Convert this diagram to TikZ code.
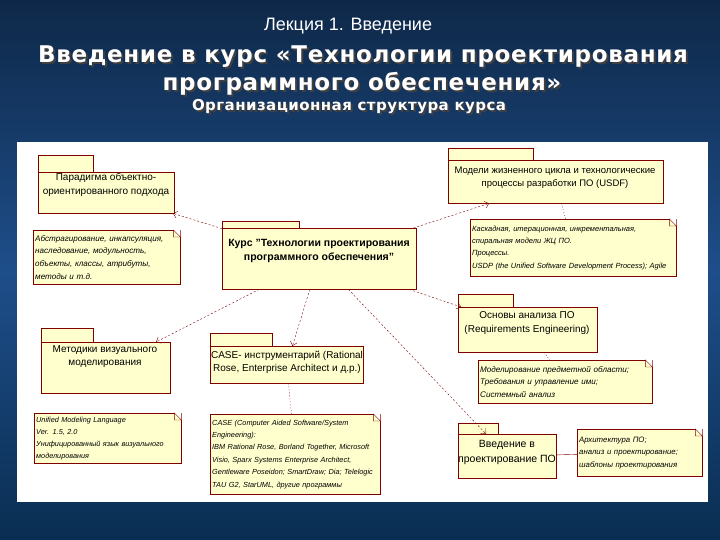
\documentclass[tikz,border=0pt]{standalone}
\usepackage{fontspec}
\setmainfont{Liberation Sans}
\newfontfamily\headfont[LetterSpace=3]{DejaVu Sans}
\usetikzlibrary{positioning,arrows.meta,calc}

\definecolor{umlfill}{RGB}{255,255,206}
\definecolor{umlred}{RGB}{128,0,0}
\definecolor{slidetop}{RGB}{14,40,72}
\definecolor{slidemid}{RGB}{30,78,138}
\definecolor{slidebot}{RGB}{10,46,82}

% heading text with a dark drop shadow
\newcommand\shadowtext[1]{\makebox[0pt][l]{\kern2pt\raisebox{-2pt}{\textcolor{black!75}{#1}}}#1}

\begin{document}
\begin{tikzpicture}[
    x=1pt, y=-1pt,
    pkg/.style={rectangle, draw=umlred, fill=umlfill, anchor=north west, inner sep=0pt},
    pkgtab/.style={draw=umlred, fill=umlfill},
    pkgtext/.style={align=center, font=\fontsize{10}{13.5}\selectfont},
    note/.style={rectangle, draw=umlred, fill=umlfill, anchor=north west, align=left, inner sep=2pt, font=\fontsize{7.8}{12.4}\selectfont\itshape},
    dep/.style={umlred, dash pattern=on 2pt off 2pt, -{Straight Barb[length=4pt,width=7pt]}},
    link/.style={umlred, dash pattern=on 1pt off 2pt},
    headline/.style={text=white, font=\headfont\bfseries\fontsize{23}{27}\selectfont}
]
\useasboundingbox (0,0) rectangle (720,540);

% slide background
\shade[top color=slidetop, bottom color=slidebot, middle color=slidemid] (0,0) rectangle (720,540);
\fill[white] (17,142) rectangle (708,502);

% headings
\node[text=white, font=\fontsize{18}{20}\selectfont] (lecture) at (348,26) {Лекция 1. Введение};
\node[headline] (t1) at (363,58) {\shadowtext{Введение в курс «Технологии проектирования}};
\node[headline] (t2) at (362,85) {\shadowtext{программного обеспечения»}};
\node[headline, font=\headfont\bfseries\fontsize{15}{17}\selectfont] (t3) at (349,108) {\shadowtext{Организационная структура курса}};

% packages
\node[pkg, minimum width=136pt, minimum height=41pt] (para) at (38,172) {};
\node[pkg, minimum width=194pt, minimum height=61pt] (kurs) at (222,228) {};
\node[pkg, minimum width=215pt, minimum height=43pt] (usdf) at (448,160) {};
\node[pkg, minimum width=139pt, minimum height=45pt] (re) at (458,307) {};
\node[pkg, minimum width=129pt, minimum height=51pt] (metod) at (41,342) {};
\node[pkg, minimum width=153pt, minimum height=37pt] (case) at (210,346) {};
\node[pkg, minimum width=98pt, minimum height=44pt] (vved) at (458,434) {};
\foreach \n/\w/\h in {para/55/17, kurs/77/7, usdf/85/12, re/55/13, metod/52/14, case/62/13, vved/40/11}
    \draw[pkgtab] (\n.north west) rectangle ++(\w,-\h);

\node[pkgtext] (paratxt) at (106,185) {Парадигма объектно-\\ориентированного подхода};
\node[pkgtext, font=\bfseries\fontsize{10.5}{14}\selectfont] (kurstxt) at (319,251) {Курс "Технологии проектирования\\программного обеспечения"};
\node[pkgtext, font=\fontsize{9.5}{13}\selectfont] (usdftxt) at (555,177.5) {Модели жизненного цикла и технологические\\процессы разработки ПО (USDF)};
\node[pkgtext] (retxt) at (527,323) {Основы анализа ПО\\(Requirements Engineering)};
\node[pkgtext] (metodtxt) at (105,356.5) {Методики визуального\\моделирования};
\node[pkgtext] (casetxt) at (287,362.5) {CASE- инструментарий (Rational\\Rose, Enterprise Architect и д.р.)};
\node[pkgtext, font=\fontsize{10.5}{15}\selectfont] (vvedtxt) at (507,452.5) {Введение в\\проектирование ПО};

% notes
\node[note, text width=143pt, minimum height=54pt, font=\fontsize{8.1}{12.6}\selectfont\itshape] (npara) at (33,230) {Абстрагирование, инкапсуляция,\\наследование, модульность,\\объекты, классы, атрибуты,\\методы и т.д.};
\node[note, text width=202pt, minimum height=57pt, font=\fontsize{7.5}{12.4}\selectfont\itshape] (nusdf) at (470,219) {Каскадная, итерационная, инкрементальная,\\спиральная модели ЖЦ ПО.\\Процессы.\\USDP (the Unified Software Development Process); Agile};
\node[note, text width=170pt, minimum height=43pt, font=\fontsize{8.1}{12.6}\selectfont\itshape] (nre) at (478,360) {Моделирование предметной области;\\Требования и управление ими;\\Системный анализ};
\node[note, text width=143pt, minimum height=50pt, font=\fontsize{7.3}{12}\selectfont\itshape] (nmetod) at (34,413) {Unified Modeling Language\\Ver. 1.5, 2.0\\Унифицированный язык визуального\\моделирования};
\node[note, text width=166pt, minimum height=80pt, font=\fontsize{7.35}{12.4}\selectfont\itshape] (ncase) at (210,414) {CASE (Computer Aided Software/System\\Engineering):\\IBM Rational Rose, Borland Together, Microsoft\\Visio, Sparx Systems Enterprise Architect,\\Gentleware Poseidon; SmartDraw; Dia; Telelogic\\TAU G2, StarUML, другие программы};
\node[note, text width=121pt, minimum height=47pt] (nvved) at (577,429) {Архитектура ПО;\\анализ и проектирование;\\шаблоны проектирования};
\foreach \n in {npara, nusdf, nre, nmetod, ncase, nvved} {
    \fill[white] (\n.north east) -- ++(-7,0) -- ++(7,7) -- cycle;
    \draw[umlred] ($(\n.north east)+(-7,0)$) -- ++(0,7) -- ++(7,0) -- cycle;
}

% dependencies
\draw[dep] (kurs) -- (para);
\draw[dep] (kurs) -- (usdf);
\draw[dep] (kurs) -- (re);
\draw[dep] (kurs) -- (metod);
\draw[dep] (kurs) -- (case);
\draw[dep] (kurs) -- (vved);

% note links
\draw[link] (usdf) -- (nusdf);
\draw[link] (re) -- (nre);
\draw[link] (case) -- (ncase);
\draw[umlred] (vved) -- (nvved);

\end{tikzpicture}
\end{document}
